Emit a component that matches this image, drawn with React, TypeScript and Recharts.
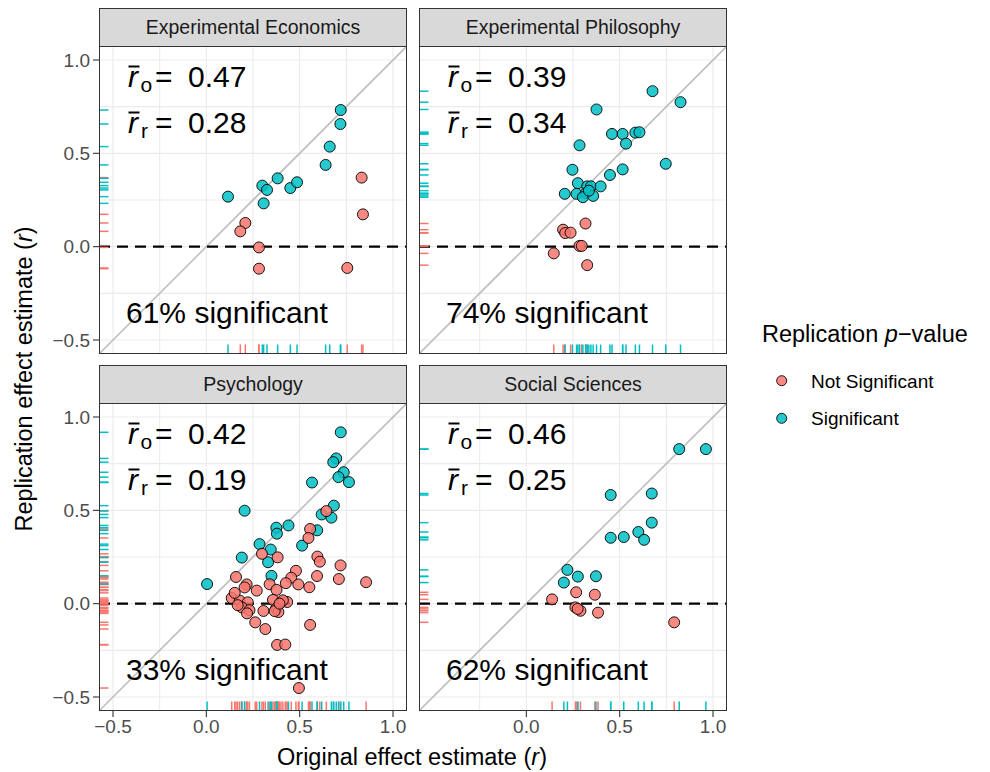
import React from 'react';
import { ScatterChart, Scatter, XAxis, YAxis, CartesianGrid, ReferenceLine } from 'recharts';

type Pt = [number, number];

// original r (x) vs replication r (y), split by replication significance
const econSig: Pt[] = [
  [0.116, 0.268], [0.3, 0.327], [0.325, 0.304], [0.307, 0.232], [0.382, 0.366], [0.45, 0.314],
  [0.486, 0.345], [0.639, 0.438], [0.661, 0.536], [0.72, 0.732], [0.718, 0.657],
];
const econNon: Pt[] = [
  [0.209, 0.127], [0.182, 0.082], [0.282, -0.004], [0.282, -0.118], [0.832, 0.37], [0.839, 0.173], [0.755, -0.114],
];

const philSig: Pt[] = [
  [0.676, 0.833], [0.826, 0.774], [0.376, 0.735], [0.459, 0.604], [0.516, 0.604], [0.584, 0.611],
  [0.606, 0.613], [0.534, 0.552], [0.285, 0.543], [0.747, 0.444], [0.516, 0.414], [0.448, 0.384],
  [0.247, 0.412], [0.276, 0.34], [0.326, 0.323], [0.346, 0.323], [0.398, 0.323], [0.206, 0.283],
  [0.269, 0.283], [0.319, 0.287], [0.303, 0.265], [0.358, 0.272], [0.335, 0.3],
];
const philNon: Pt[] = [
  [0.317, 0.124], [0.197, 0.091], [0.208, 0.073], [0.237, 0.075], [0.285, 0.004], [0.297, 0.004],
  [0.147, -0.036], [0.326, -0.099],
];

const psychSig: Pt[] = [
  [0.72, 0.918], [0.696, 0.778], [0.68, 0.758], [0.736, 0.704], [0.708, 0.678], [0.764, 0.651],
  [0.566, 0.649], [0.205, 0.498], [0.683, 0.525], [0.618, 0.478], [0.67, 0.461], [0.375, 0.407],
  [0.378, 0.375], [0.44, 0.419], [0.594, 0.393], [0.513, 0.311], [0.285, 0.319], [0.345, 0.29],
  [0.19, 0.247], [0.331, 0.222], [0.349, 0.149], [0.004, 0.105],
];
const psychNon: Pt[] = [
  [0.643, 0.496], [0.556, 0.4], [0.547, 0.352], [0.298, 0.267], [0.382, 0.248], [0.595, 0.252],
  [0.608, 0.225], [0.719, 0.205], [0.48, 0.176], [0.455, 0.139], [0.159, 0.143], [0.71, 0.132],
  [0.856, 0.115], [0.593, 0.148], [0.493, 0.103], [0.426, 0.11], [0.552, 0.088], [0.216, 0.103],
  [0.339, 0.104], [0.27, 0.07], [0.376, 0.074], [0.136, 0.03], [0.179, 0.016], [0.222, 0.007],
  [0.19, -0.02], [0.231, -0.035], [0.357, 0.02], [0.4, 0.007], [0.433, 0.009], [0.374, -0.026],
  [0.386, -0.045], [0.306, -0.039], [0.262, -0.1], [0.316, -0.136], [0.556, -0.114], [0.379, -0.221],
  [0.423, -0.219], [0.496, -0.452], [0.205, 0.087], [0.168, -0.008], [0.218, -0.052], [0.41, 0.018],
  [0.366, -0.04], [0.152, 0.058], [0.392, 0.0],
];

const socSig: Pt[] = [
  [0.819, 0.828], [0.962, 0.828], [0.452, 0.582], [0.672, 0.59], [0.672, 0.434], [0.6, 0.384],
  [0.631, 0.342], [0.452, 0.353], [0.522, 0.357], [0.22, 0.181], [0.276, 0.145], [0.373, 0.147], [0.201, 0.113],
];
const socNon: Pt[] = [
  [0.138, 0.023], [0.267, 0.061], [0.367, 0.048], [0.263, -0.02], [0.29, -0.038], [0.275, -0.028],
  [0.384, -0.048], [0.792, -0.1],
];

const facetNames = ['Experimental Economics', 'Experimental Philosophy', 'Psychology', 'Social Sciences'];
const meanOrig = ['0.47', '0.39', '0.42', '0.46'];
const meanRep = ['0.28', '0.34', '0.19', '0.25'];
const pctSig = ['61%', '74%', '33%', '62%'];
const sigSets = [econSig, philSig, psychSig, socSig];
const nonSets = [econNon, philNon, psychNon, socNon];

const majorTicks = [-0.5, 0, 0.5, 1];
const gridValues = [-0.5, -0.25, 0, 0.25, 0.5, 0.75, 1];
const LIM: [number, number] = [-0.575, 1.075];

const RED = '#F8766D';
const TEAL = '#00BFC4';
const FONT = "'Liberation Sans', Arial, Helvetica, sans-serif";

const PW = 308;
const PH = 308;
const COL_X = [99, 419];
const ROW_Y = [46, 403];
const STRIP_H = 38;
const RUG = 9.5;

const fmt = (v: number) => (v < 0 ? '\u2212' : '') + Math.abs(v).toFixed(1);
const toObj = (pts: Pt[]) => pts.map(([x, y]) => ({ x, y }));

const dot = (color: string) => (p: any) => (
  <circle cx={p.cx} cy={p.cy} r={5.5} fill={color} fillOpacity={0.85} stroke="#000" strokeWidth={0.9} />
);
const bottomRug = (color: string) => (p: any) => (
  <line x1={p.cx} x2={p.cx} y1={p.cy} y2={p.cy - RUG} stroke={color} strokeWidth={1.5} />
);
const leftRug = (color: string) => (p: any) => (
  <line x1={p.cx} x2={p.cx + RUG} y1={p.cy} y2={p.cy} stroke={color} strokeWidth={1.5} />
);

const Panel = ({ idx }: { idx: number }) => {
  const col = idx % 2;
  const row = Math.floor(idx / 2);
  const showY = col === 0;
  const showX = row === 1;
  const axisW = showY ? COL_X[0] : 0;
  const axisH = showX ? 50 : 0;
  const sig = toObj(sigSets[idx]);
  const non = toObj(nonSets[idx]);
  const px = COL_X[col];
  const py = ROW_Y[row];

  return (
    <>
      <div
        style={{
          position: 'absolute', left: px, top: py - STRIP_H, width: PW, height: STRIP_H + 1,
          boxSizing: 'border-box', background: '#D9D9D9', border: '1.1px solid #333',
          display: 'flex', alignItems: 'center', justifyContent: 'center',
          fontSize: 19.5, color: '#1A1A1A',
        }}
      >
        {facetNames[idx]}
      </div>
      <div style={{ position: 'absolute', left: px - axisW, top: py }}>
        <ScatterChart width={PW + axisW} height={PH + axisH} margin={{ top: 0, right: 0, bottom: 0, left: 0 }}>
          <CartesianGrid stroke="#EBEBEB" strokeWidth={1.1} horizontalValues={gridValues} verticalValues={gridValues} />
          <XAxis
            type="number" dataKey="x" domain={LIM} allowDataOverflow hide={!showX} height={axisH}
            ticks={majorTicks} tickFormatter={fmt} axisLine={false} tickSize={6} tickMargin={3}
            tickLine={{ stroke: '#333', strokeWidth: 1.1 }}
            tick={{ fill: '#4D4D4D', fontSize: 19, fontFamily: FONT }}
          />
          <YAxis
            type="number" dataKey="y" domain={LIM} allowDataOverflow hide={!showY} width={axisW}
            ticks={majorTicks} tickFormatter={fmt} axisLine={false} tickSize={6} tickMargin={3}
            tickLine={{ stroke: '#333', strokeWidth: 1.1 }}
            tick={{ fill: '#4D4D4D', fontSize: 19, fontFamily: FONT }}
          />
          <ReferenceLine
            segment={[{ x: LIM[0], y: LIM[0] }, { x: LIM[1], y: LIM[1] }]}
            stroke="#BEBEBE" strokeWidth={1.6} ifOverflow="visible"
          />
          <ReferenceLine y={0} stroke="#000" strokeWidth={2.2} strokeDasharray="11 7" />
          <Scatter data={non.map((d) => ({ x: d.x, y: LIM[0] }))} shape={bottomRug(RED)} isAnimationActive={false} />
          <Scatter data={sig.map((d) => ({ x: d.x, y: LIM[0] }))} shape={bottomRug(TEAL)} isAnimationActive={false} />
          <Scatter data={non.map((d) => ({ x: LIM[0], y: d.y }))} shape={leftRug(RED)} isAnimationActive={false} />
          <Scatter data={sig.map((d) => ({ x: LIM[0], y: d.y }))} shape={leftRug(TEAL)} isAnimationActive={false} />
          <Scatter data={sig} shape={dot(TEAL)} isAnimationActive={false} />
          <Scatter data={non} shape={dot(RED)} isAnimationActive={false} />
        </ScatterChart>
      </div>
      <div
        style={{
          position: 'absolute', left: px, top: py, width: PW, height: PH,
          boxSizing: 'border-box', border: '1.1px solid #333', pointerEvents: 'none',
        }}
      />
      <svg
        width={PW} height={PH}
        style={{ position: 'absolute', left: px, top: py, overflow: 'visible', pointerEvents: 'none' }}
      >
        <g fontFamily={FONT} fontSize={30} fill="#000">
          <text y={41}>
            <tspan x={29} fontStyle="italic">r</tspan>
            <tspan x={41.5} dy={5} fontSize={21}>o</tspan>
            <tspan x={56} dy={-5}>=</tspan>
            <tspan x={89}>{meanOrig[idx]}</tspan>
          </text>
          <line x1={29.5} x2={40.5} y1={20.5} y2={20.5} stroke="#000" strokeWidth={2} />
          <text y={87}>
            <tspan x={29} fontStyle="italic">r</tspan>
            <tspan x={42} dy={5} fontSize={21}>r</tspan>
            <tspan x={56} dy={-5}>=</tspan>
            <tspan x={89}>{meanRep[idx]}</tspan>
          </text>
          <line x1={29.5} x2={40.5} y1={66.5} y2={66.5} stroke="#000" strokeWidth={2} />
          <text x={27} y={277}>{pctSig[idx]} significant</text>
        </g>
      </svg>
    </>
  );
};

const App = () => {
  return (
    <div style={{ position: 'absolute', left: 0, top: 0, width: 990, height: 772, background: '#fff', fontFamily: FONT }}>
      <svg width={990} height={772} style={{ position: 'absolute', left: 0, top: 0 }}>
        <g fontFamily={FONT} fill="#000">
          <text transform="rotate(-90)" x={-379} y={31.5} fontSize={23.5} textAnchor="middle">
            Replication effect estimate (<tspan fontStyle="italic">r</tspan>)
          </text>
          <text x={412} y={765} fontSize={23.5} textAnchor="middle">
            Original effect estimate (<tspan fontStyle="italic">r</tspan>)
          </text>
          <text x={762} y={342} fontSize={23.5}>
            Replication <tspan fontStyle="italic">p</tspan>{'\u2212'}value
          </text>
          <circle cx={781.7} cy={380.7} r={5} fill={RED} fillOpacity={0.85} stroke="#000" strokeWidth={0.9} />
          <text x={811} y={387.5} fontSize={19}>Not Significant</text>
          <circle cx={781.7} cy={418.3} r={5} fill={TEAL} fillOpacity={0.85} stroke="#000" strokeWidth={0.9} />
          <text x={811} y={425} fontSize={19}>Significant</text>
        </g>
      </svg>
      {[0, 1, 2, 3].map((i) => (
        <Panel key={i} idx={i} />
      ))}
    </div>
  );
};

export default App;
